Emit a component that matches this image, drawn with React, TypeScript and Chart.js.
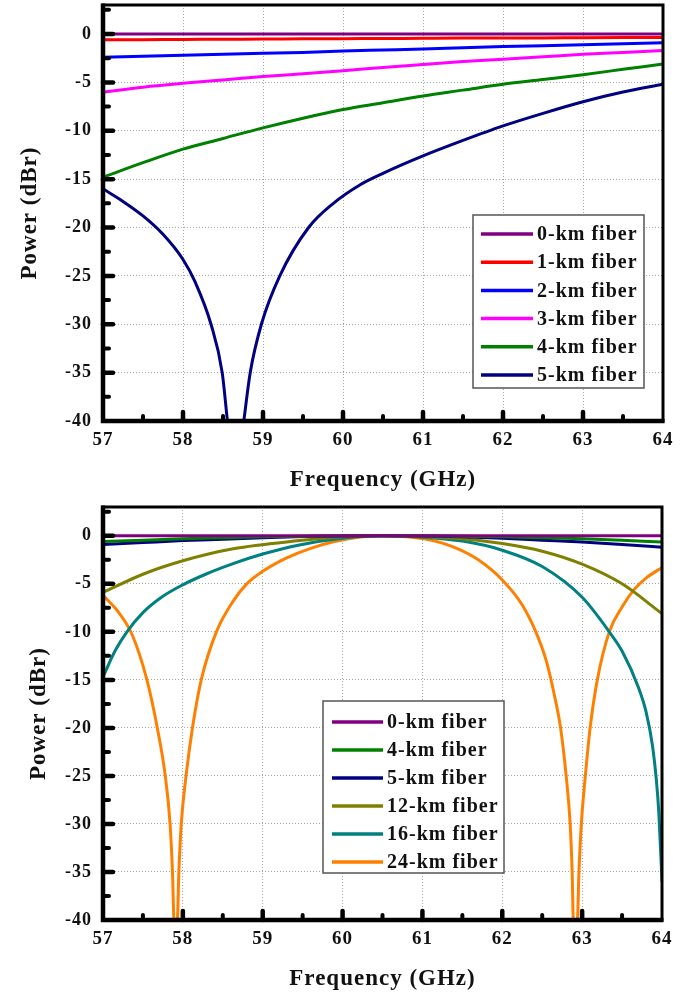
import React, { useEffect, useRef } from 'react';
import { Chart, registerables } from 'chart.js';
Chart.register(...registerables);

// ---------- axes ----------
const xTicks = [57, 58, 59, 60, 61, 62, 63, 64];
const xMinorTicks = [57.5, 58.5, 59.5, 60.5, 61.5, 62.5, 63.5];
const yTicks = [-40, -35, -30, -25, -20, -15, -10, -5, 0];
const yMinorTicks = [-37.5, -32.5, -27.5, -22.5, -17.5, -12.5, -7.5, -2.5, 2.5];
const xTitle = 'Frequency (GHz)';
const yTitle = 'Power (dBr)';

// ---------- top panel ----------
const topFreq = [57, 57.5, 58, 58.5, 59, 59.5, 60, 60.5, 61, 61.5, 62, 62.5, 63, 63.5, 64];
const top0km = [0, 0, 0, 0, 0, 0, 0, 0, 0, 0, 0, 0, 0, 0, 0];
const top1km = [-0.6, -0.58, -0.56, -0.54, -0.52, -0.5, -0.48, -0.46, -0.44, -0.42, -0.41, -0.4, -0.38, -0.37, -0.36];
const top2km = [-2.4, -2.3, -2.2, -2.1, -2.0, -1.9, -1.75, -1.65, -1.55, -1.42, -1.3, -1.2, -1.1, -1.0, -0.9];
const top3km = [-6.0, -5.5, -5.1, -4.75, -4.4, -4.1, -3.8, -3.45, -3.15, -2.85, -2.6, -2.35, -2.1, -1.9, -1.7];
const top4km = [-14.8, -13.3, -11.9, -10.8, -9.7, -8.7, -7.8, -7.1, -6.4, -5.8, -5.2, -4.7, -4.2, -3.65, -3.1];
const top5kmFreq = [57, 57.25, 57.5, 57.75, 58.0, 58.15, 58.35, 58.49, 58.555, 58.65, 58.76, 58.84, 58.98, 59.21, 59.57, 59.88, 60.21, 60.5, 61, 61.5, 62, 62.5, 63, 63.5, 64];
const top5km = [-16.0, -17.3, -18.8, -20.7, -23.3, -25.6, -30.0, -35.0, -40, null, -40, -35.0, -30.0, -25.0, -20.0, -17.5, -15.6, -14.4, -12.6, -11.0, -9.5, -8.2, -7.0, -6.0, -5.2];
const topLabels = ['0-km fiber', '1-km fiber', '2-km fiber', '3-km fiber', '4-km fiber', '5-km fiber'];
const topColors = ['#800080', '#ff0000', '#0000ff', '#ff00ff', '#008000', '#000080'];

// ---------- bottom panel ----------
const botFreq = [57, 57.5, 58, 58.5, 59, 59.5, 60, 60.5, 61, 61.5, 62, 62.5, 63, 63.5, 64];
const bot0km = [0, 0, 0, 0, 0, 0, 0, 0, 0, 0, 0, 0, 0, 0, 0];
const bot4km = [-0.6, -0.45, -0.3, -0.2, -0.1, -0.05, 0, 0, 0, -0.05, -0.1, -0.2, -0.3, -0.45, -0.65];
const bot5km = [-0.9, -0.7, -0.5, -0.35, -0.2, -0.08, -0.02, 0, -0.02, -0.1, -0.25, -0.45, -0.65, -0.9, -1.2];
const bot12kmFreq = [57, 57.5, 58, 58.63, 59.46, 60, 60.5, 61, 61.5, 62, 62.5, 63, 63.5, 64];
const bot12km = [-5.9, -4.0, -2.6, -1.35, -0.5, -0.1, 0, -0.1, -0.3, -0.8, -1.6, -2.95, -5.0, -8.1];
const bot16kmFreq = [57, 57.15, 57.3, 57.5, 57.75, 58, 58.3, 58.63, 59, 59.46, 60, 60.5, 61, 61.5, 62, 62.5, 63, 63.34, 63.5, 63.71, 63.8, 63.88, 63.93, 63.96, 64];
const bot16km = [-14.7, -12.0, -10.0, -8.0, -6.3, -5.1, -3.95, -2.9, -1.9, -0.95, -0.25, 0, -0.15, -0.55, -1.5, -3.2, -6.4, -10.0, -12.0, -15.9, -18.3, -21.8, -25.5, -28.8, -36.0];
const bot24kmFreq = [57, 57.18, 57.36, 57.55, 57.68, 57.78, 57.84, 57.87, 57.89, 57.93, 57.95, 57.98, 58.04, 58.12, 58.23, 58.42, 58.63, 58.8, 59.0, 59.3, 59.6, 59.9, 60.2, 60.5, 60.8, 61.1, 61.4, 61.7, 62.0, 62.25, 62.42, 62.55, 62.65, 62.73, 62.8, 62.85, 62.875, 62.89, 62.94, 62.96, 62.99, 63.04, 63.1, 63.19, 63.34, 63.5, 63.65, 63.8, 64];
const bot24km = [-6.2, -7.8, -10.2, -15.0, -20.0, -25.0, -30.0, -35.0, -40, -40, -35.0, -30.0, -25.0, -20.0, -15.0, -10.0, -6.8, -5.0, -3.7, -2.3, -1.3, -0.6, -0.15, 0, -0.1, -0.45, -1.2, -2.5, -4.6, -7.2, -10.0, -13.0, -16.5, -20.0, -25.0, -30.0, -35.0, -40, -40, -35.0, -30.0, -25.0, -20.0, -15.0, -10.0, -7.4, -5.6, -4.4, -3.3];
const botLabels = ['0-km fiber', '4-km fiber', '5-km fiber', '12-km fiber', '16-km fiber', '24-km fiber'];
const botColors = ['#800080', '#008000', '#000080', '#808000', '#008080', '#ff8000'];

const FONT = "'Liberation Serif', 'Times New Roman', serif";

function pts(xs: number[], ys: (number | null)[]) {
  return xs.map((x, i) => ({ x, y: ys[i] }));
}

const framePlugin = {
  id: 'frameTicks',
  beforeUpdate(chart: any) {
    try { chart.ctx.letterSpacing = '1px'; } catch (e) {}
  },
  afterDatasetsDraw(chart: any) {
    const { ctx, chartArea, scales } = chart;
    const { left, right, top, bottom } = chartArea;
    const xs = scales.x, ys = scales.y;
    ctx.save();
    ctx.strokeStyle = '#000';
    ctx.lineWidth = 3;
    ctx.strokeRect(left, top, right - left, bottom - top);
    ctx.lineWidth = 4.5;
    ctx.beginPath();
    ctx.moveTo(left, top - 1.5);
    ctx.lineTo(left, bottom);
    ctx.lineTo(right + 1.5, bottom);
    ctx.stroke();
    ctx.lineCap = 'round';
    const drawX = (v: number, len: number, w: number) => {
      const p = xs.getPixelForValue(v);
      ctx.lineWidth = w;
      ctx.beginPath(); ctx.moveTo(p, bottom); ctx.lineTo(p, bottom - len); ctx.stroke();
    };
    const drawY = (v: number, len: number, w: number) => {
      const p = ys.getPixelForValue(v);
      ctx.lineWidth = w;
      ctx.beginPath(); ctx.moveTo(left, p); ctx.lineTo(left + len, p); ctx.stroke();
    };
    xTicks.slice(1, -1).forEach(v => drawX(v, 9, 4.5));
    xMinorTicks.forEach(v => drawX(v, 5, 4));
    yTicks.slice(1).forEach(v => drawY(v, 10, 4.5));
    yMinorTicks.forEach(v => drawY(v, 6, 4));
    ctx.restore();
  },
  afterDraw(chart: any) {
    const o = chart.options.plugins.fiberLegend;
    if (!o) return;
    const { ctx } = chart;
    ctx.save();
    ctx.fillStyle = '#fff';
    ctx.fillRect(o.x0, o.y0, o.x1 - o.x0, o.y1 - o.y0);
    ctx.strokeStyle = '#555';
    ctx.lineWidth = 1.5;
    ctx.strokeRect(o.x0, o.y0, o.x1 - o.x0, o.y1 - o.y0);
    ctx.font = `bold 20px ${FONT}`;
    ctx.textBaseline = 'middle';
    ctx.textAlign = 'left';
    o.labels.forEach((lab: string, i: number) => {
      const y = o.row0 + i * o.gap;
      ctx.strokeStyle = o.colors[i];
      ctx.lineWidth = 3.5;
      ctx.beginPath(); ctx.moveTo(o.l0, y); ctx.lineTo(o.l1, y); ctx.stroke();
      ctx.fillStyle = '#111';
      ctx.fillText(lab, o.tx, y + 1);
    });
    ctx.restore();
  },
};

function makeConfig(p: any) {
  return {
    type: 'line',
    data: {
      datasets: p.series.map((s: any, i: number) => ({
        label: p.labels[i],
        data: s,
        borderColor: p.colors[i],
        backgroundColor: p.colors[i],
        borderWidth: 3,
        pointRadius: 0,
        fill: false,
        spanGaps: false,
        cubicInterpolationMode: 'monotone',
      })),
    },
    options: {
      responsive: false,
      animation: false,
      events: [],
      layout: { padding: { top: p.padTop, right: p.padRight, left: 0, bottom: 0 } },
      plugins: {
        legend: { display: false },
        tooltip: { enabled: false },
        fiberLegend: p.legend,
      },
      scales: {
        x: {
          type: 'linear',
          min: 57,
          max: 64,
          afterBuildTicks: (s: any) => { s.ticks = xTicks.map(v => ({ value: v })); },
          afterFit: (s: any) => { s.height = 78; s.paddingLeft = 0; s.paddingRight = 0; },
          ticks: { color: '#111', font: { family: FONT, size: 19, weight: 'bold' }, padding: 8, maxRotation: 0 },
          grid: { color: '#a8a8a8', lineWidth: 1, drawTicks: false },
          border: { display: false, dash: [1, 2] },
          title: { display: true, text: xTitle, color: '#111', font: { family: FONT, size: 23, weight: 'bold' }, padding: { top: 0, bottom: 5 } },
        },
        y: {
          type: 'linear',
          min: -40,
          max: 3,
          afterBuildTicks: (s: any) => { s.ticks = yTicks.map(v => ({ value: v })); },
          afterFit: (s: any) => { s.width = 103; s.paddingTop = 0; s.paddingBottom = 0; },
          ticks: { color: '#111', font: { family: FONT, size: 18, weight: 'bold' }, padding: 11 },
          grid: { color: '#a8a8a8', lineWidth: 1, drawTicks: false },
          border: { display: false, dash: [1, 2] },
          title: { display: true, text: yTitle, color: '#111', font: { family: FONT, size: 23, weight: 'bold' }, padding: { top: p.yTitlePad, bottom: 0 } },
        },
      },
    },
    plugins: [framePlugin],
  };
}

function Panel({ params }: { params: any }) {
  const ref = useRef<HTMLCanvasElement>(null);
  useEffect(() => {
    const chart = new Chart(ref.current as HTMLCanvasElement, makeConfig(params) as any);
    return () => chart.destroy();
  }, []);
  return <canvas ref={ref} width={692} height={499} style={{ display: 'block', width: 692, height: 499 }} />;
}

const topParams = {
  series: [
    pts(topFreq, top0km), pts(topFreq, top1km), pts(topFreq, top2km),
    pts(topFreq, top3km), pts(topFreq, top4km), pts(top5kmFreq, top5km),
  ],
  labels: topLabels,
  colors: topColors,
  padTop: 5,
  padRight: 29,
  yTitlePad: 16,
  legend: { x0: 473, x1: 644, y0: 215, y1: 388, l0: 481, l1: 533, tx: 537, row0: 234, gap: 28.2, labels: topLabels, colors: topColors },
};

const botParams = {
  series: [
    pts(botFreq, bot0km), pts(botFreq, bot4km), pts(botFreq, bot5km),
    pts(bot12kmFreq, bot12km), pts(bot16kmFreq, bot16km), pts(bot24kmFreq, bot24km),
  ],
  labels: botLabels,
  colors: botColors,
  padTop: 8,
  padRight: 30,
  yTitlePad: 25,
  legend: { x0: 323, x1: 504, y0: 202, y1: 374, l0: 332, l1: 383, tx: 387, row0: 223, gap: 28, labels: botLabels, colors: botColors },
};

export default function App() {
  return (
    <div style={{ position: 'absolute', left: 0, top: 0, width: 692, height: 998, background: '#fff' }}>
      <Panel params={topParams} />
      <Panel params={botParams} />
    </div>
  );
}
